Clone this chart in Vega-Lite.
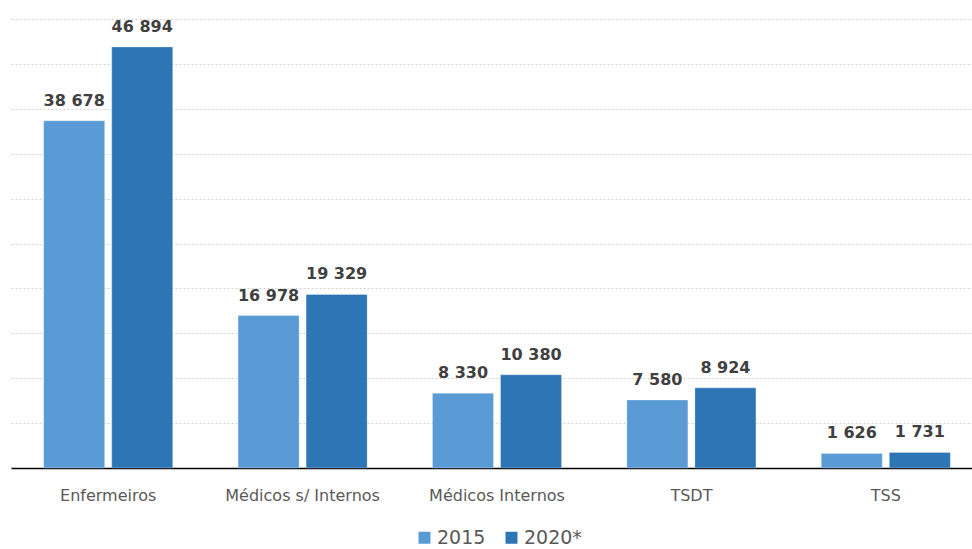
{
  "$schema": "https://vega.github.io/schema/vega-lite/v6.json",
  "autosize": "none",
  "width": 972,
  "height": 449,
  "padding": {"left": 11, "top": 19, "right": 0, "bottom": 81},
  "background": "white",
  "config": {
    "view": {"stroke": null},
    "locale": {"number": {"decimal": ",", "thousands": " ", "grouping": [3], "currency": ["", " €"]}},
    "font": "DejaVu Sans"
  },
  "data": {
    "values": [
      {"cat": "Enfermeiros", "ano": "2015", "v": 38678},
      {"cat": "Enfermeiros", "ano": "2020*", "v": 46894},
      {"cat": "Médicos s/ Internos", "ano": "2015", "v": 16978},
      {"cat": "Médicos s/ Internos", "ano": "2020*", "v": 19329},
      {"cat": "Médicos Internos", "ano": "2015", "v": 8330},
      {"cat": "Médicos Internos", "ano": "2020*", "v": 10380},
      {"cat": "TSDT", "ano": "2015", "v": 7580},
      {"cat": "TSDT", "ano": "2020*", "v": 8924},
      {"cat": "TSS", "ano": "2015", "v": 1626},
      {"cat": "TSS", "ano": "2020*", "v": 1731}
    ]
  },
  "encoding": {
    "x": {
      "field": "cat", "type": "nominal", "sort": null,
      "scale": {"paddingInner": 0.336, "paddingOuter": 0.168},
      "axis": {
        "title": null, "labelAngle": 0, "ticks": false,
        "domainColor": "#000000", "domainWidth": 1.5,
        "labelFontSize": 16, "labelColor": "#595959", "labelPadding": 19,
        "labelFont": "DejaVu Sans"
      }
    },
    "xOffset": {"field": "ano", "type": "nominal", "scale": {"paddingInner": 0.103}},
    "y": {
      "field": "v", "type": "quantitative",
      "scale": {"domain": [0, 50000], "nice": false},
      "axis": {
        "title": null, "labels": false, "ticks": false, "domain": false,
        "values": [5000, 10000, 15000, 20000, 25000, 30000, 35000, 40000, 45000, 50000],
        "gridColor": "#d0d0d0", "gridDash": [2, 2], "gridWidth": 1
      }
    }
  },
  "layer": [
    {
      "mark": {"type": "bar", "stroke": "white", "strokeWidth": 0.5, "strokeOpacity": 0.6},
      "encoding": {
        "color": {
          "field": "ano", "type": "nominal",
          "scale": {"domain": ["2015", "2020*"], "range": ["#5B9BD5", "#2E75B6"]},
          "legend": {
            "title": null, "orient": "none", "direction": "horizontal",
            "legendX": 404, "legendY": 509,
            "symbolType": "square", "symbolSize": 144, "symbolStrokeWidth": 0,
            "labelFont": "DejaVu Sans",
            "labelFontSize": 19, "labelColor": "#595959",
            "columnPadding": 16, "labelOffset": 3
          }
        }
      }
    },
    {
      "mark": {"type": "text", "dy": -15, "baseline": "alphabetic", "fontSize": 16, "fontWeight": "bold", "color": "#404040", "font": "DejaVu Sans"},
      "encoding": {
        "text": {"field": "v", "type": "quantitative", "format": ",d"}
      }
    }
  ]
}
